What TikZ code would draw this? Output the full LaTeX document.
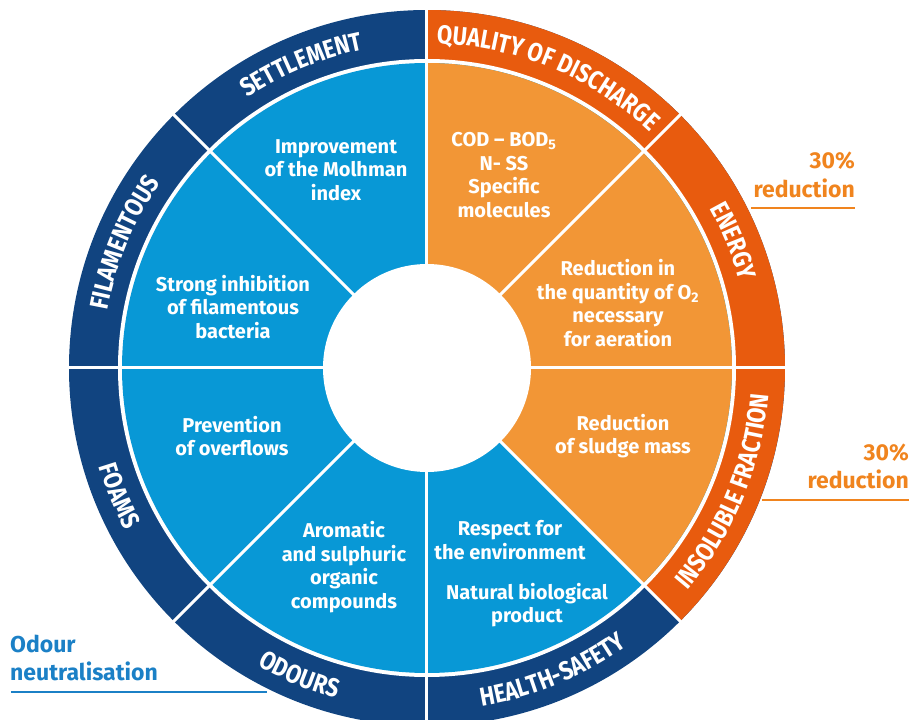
\documentclass[tikz,border=0pt]{standalone}
\usepackage{fontspec}
\setmainfont{Fira Sans}
\newfontfamily\ringfont[FakeStretch=0.85]{Fira Sans}
\usetikzlibrary{decorations.text}
\definecolor{navy}{RGB}{17,68,128}
\definecolor{orring}{RGB}{232,91,14}
\definecolor{bluein}{RGB}{8,152,214}
\definecolor{blueedge}{RGB}{4,108,176}
\definecolor{orin}{RGB}{242,150,54}
\definecolor{oredge}{RGB}{205,112,30}
\definecolor{ortext}{RGB}{240,132,30}
\definecolor{bltext}{RGB}{27,128,198}
\pgfdeclareradialshading{blueshade}{\pgfpoint{0bp}{0bp}}{color(0bp)=(bluein); color(46bp)=(bluein); color(50bp)=(blueedge); color(100bp)=(blueedge)}
\pgfdeclareradialshading{orshade}{\pgfpoint{0bp}{0bp}}{color(0bp)=(orin); color(46bp)=(orin); color(50bp)=(oredge); color(100bp)=(oredge)}
\newcommand\ringfnt{\ringfont\bfseries\fontsize{26}{26}\selectfont}
\newcommand\ringcw[3]{\path[decorate,decoration={text along path,text color=white,text align=center,text={|\ringfnt|#3}}] (#1:324.5) arc[start angle=#1,end angle=#2,radius=324.5];}
\newcommand\ringccw[3]{\path[decorate,decoration={text along path,text color=white,text align=center,text={|\ringfnt|#3}}] (#1:342.5) arc[start angle=#1,end angle=#2,radius=342.5];}
\tikzset{
  innertext/.style={text=white, align=center, font=\bfseries\fontsize{20}{23.5}\selectfont, inner sep=0pt},
  sidetext/.style={font=\bfseries\fontsize{23}{23}\selectfont, inner sep=0pt},
  sep/.style={draw=white, line width=3pt},
}
\begin{document}
\begin{tikzpicture}[x=1pt,y=1pt]
\useasboundingbox (-427,-352) rectangle (484,368);
\clip (-427,-352) rectangle (484,368);
% outer ring
\fill[navy] (0,0) circle (358);
\fill[orring] (0,0) -- (90:358) arc[start angle=90,end angle=-45,radius=358] -- cycle;
\fill[white] (0,0) circle (309);
% inner segments
\shade[shading=blueshade] (0,0) circle (305);
\begin{scope}
  \clip (0,0) -- (90:310) arc[start angle=90,end angle=-45,radius=310] -- cycle;
  \shade[shading=orshade] (0,0) circle (305);
\end{scope}
% separators
\foreach \a in {0,45,...,315} { \draw[sep] (\a:100) -- (\a:362); }
\fill[white] (0,0) circle (104);
% ring labels
\ringcw{145}{80}{SETTLEMENT}
\ringcw{100}{35}{QUALITY OF DISCHARGE}
\ringcw{55}{-10}{ENERGY}
\ringcw{190}{125}{FILAMENTOUS}
\ringccw{170}{235}{FOAMS}
\ringccw{215}{280}{ODOURS}
\ringccw{260}{325}{HEALTH-SAFETY}
\ringccw{305}{370}{INSOLUBLE FRACTION}
% inner texts
\node[innertext] (t1) at (-91,198) {Improvement\\of the Molhman\\index};
\node[innertext] (t2) at (-194,61) {Strong inhibition\\of filamentous\\bacteria};
\node[innertext] (t3) at (-195,-68) {Prevention\\of overflows};
\node[innertext] (t4) at (-83,-199) {Aromatic\\and sulphuric\\organic\\compounds};
\node[innertext] (t5) at (77,193) {COD – BOD\textsubscript{5}\\N- SS\\Specific\\molecules};
\node[innertext] (t6) at (191,65) {Reduction in\\the quantity of O\textsubscript{2}\\necessary\\for aeration};
\node[innertext] (t7) at (196,-68) {Reduction\\of sludge mass};
\node[innertext] (t8) at (83,-172) {Respect for\\the environment};
\node[innertext] (t9) at (100,-237) {Natural biological\\product};
% side labels
\node[sidetext, text=ortext, anchor=base east] (r1a) at (428,199) {30\%};
\node[sidetext, text=ortext, anchor=base east] (r1b) at (428,170) {reduction};
\coordinate (u1a) at (324,160); \coordinate (u1b) at (428,160);
\draw[ortext, line width=1.2pt] (u1a) -- (u1b);
\node[sidetext, text=ortext, anchor=base east] (r2a) at (482,-93) {30\%};
\node[sidetext, text=ortext, anchor=base east] (r2b) at (482,-121) {reduction};
\coordinate (u2a) at (335,-132); \coordinate (u2b) at (482,-132);
\draw[ortext, line width=1.2pt] (u2a) -- (u2b);
\node[sidetext, text=bltext, anchor=base west] (o1) at (-417,-284) {Odour};
\node[sidetext, text=bltext, anchor=base west] (o2) at (-417,-312) {neutralisation};
\coordinate (u3a) at (-416,-324); \coordinate (u3b) at (-160,-324);
\draw[bltext, line width=1.2pt] (u3a) -- (u3b);
\end{tikzpicture}
\end{document}
